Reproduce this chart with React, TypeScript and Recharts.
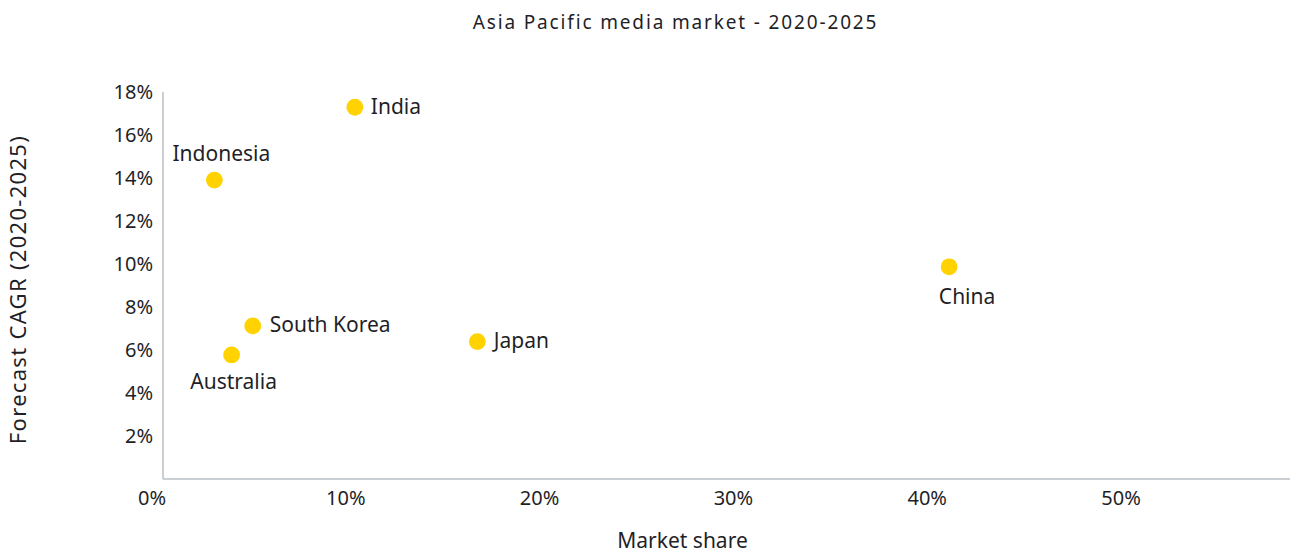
import React from "react";
import { ScatterChart, Scatter, XAxis, YAxis } from "recharts";

const countries = ["India", "Indonesia", "China", "South Korea", "Australia", "Japan"];
const marketShare = [9.9, 2.65, 40.56, 4.63, 3.54, 16.22];
const forecastCagr = [17.29, 13.9, 9.87, 7.12, 5.77, 6.39];
const xTicks = [0, 10, 20, 30, 40, 50];
const yTicks = [2, 4, 6, 8, 10, 12, 14, 16, 18];

const data = countries.map((name, i) => ({ name, x: marketShare[i], y: forecastCagr[i] }));

const FONT = "'Noto Sans', sans-serif";
const TEXT = "#1f1f27";
const AXIS = "#B8BFC6";
const DOT = "#FFD200";

type Placement = { anchor: "start" | "middle"; dx: number; dy: number };
const placement: Record<string, Placement> = {
  India: { anchor: "start", dx: 16, dy: 6.5 },
  Japan: { anchor: "start", dx: 16.5, dy: 6.5 },
  "South Korea": { anchor: "start", dx: 17, dy: 6.5 },
  Indonesia: { anchor: "middle", dx: 7, dy: -19 },
  China: { anchor: "middle", dx: 18, dy: 37 },
  Australia: { anchor: "middle", dx: 2, dy: 34 },
};

const DotShape = (props: any) => {
  const { cx, cy, payload } = props;
  const p = placement[payload.name];
  return (
    <g>
      <circle cx={cx} cy={cy} r={8.4} fill={DOT} />
      <text
        x={cx + p.dx}
        y={cy + p.dy}
        textAnchor={p.anchor}
        fontFamily={FONT}
        fontSize={21}
        fill={TEXT}
      >
        {payload.name}
      </text>
    </g>
  );
};

const XTick = (props: any) => {
  const { x, y, payload } = props;
  return (
    <text x={x - 11} y={y + 18} textAnchor="middle" fontFamily={FONT} fontSize={20} fill={TEXT}>
      {`${payload.value}%`}
    </text>
  );
};

const YTick = (props: any) => {
  const { x, y, payload } = props;
  return (
    <text x={x} y={y + 6.5} textAnchor="end" fontFamily={FONT} fontSize={20} fill={TEXT}>
      {`${payload.value}%`}
    </text>
  );
};

export default function App() {
  return (
    <div style={{ position: "relative", width: 1290, height: 555, background: "#fff" }}>
      <style>{`body{margin:0;}`}</style>
      <ScatterChart
        width={1290}
        height={555}
        margin={{ top: 92, right: 0, bottom: 0, left: 0 }}
      >
        <XAxis
          type="number"
          dataKey="x"
          domain={[0, 58.15]}
          ticks={xTicks}
          tickLine={false}
          tickSize={0}
          tickMargin={8}
          height={76}
          axisLine={{ stroke: AXIS, strokeWidth: 1.5 }}
          tick={<XTick />}
          interval={0}
          allowDataOverflow
        />
        <YAxis
          type="number"
          dataKey="y"
          domain={[0, 18]}
          ticks={yTicks}
          tickLine={false}
          tickSize={0}
          tickMargin={10}
          width={163}
          axisLine={{ stroke: AXIS, strokeWidth: 1.5 }}
          tick={<YTick />}
          interval={0}
        />
        <Scatter data={data} shape={<DotShape />} isAnimationActive={false} />
      </ScatterChart>
      <svg
        width={1290}
        height={555}
        style={{ position: "absolute", left: 0, top: 0, pointerEvents: "none" }}
      >
        <text x={675.5} y={28.5} textAnchor="middle" fontFamily={FONT} fontSize={19} letterSpacing={1.85} fill={TEXT}>
          Asia Pacific media market - 2020-2025
        </text>
        <text x={682.5} y={548} textAnchor="middle" fontFamily={FONT} fontSize={21} fill={TEXT}>
          Market share
        </text>
        <text
          x={0}
          y={0}
          transform="translate(26,289.5) rotate(-90)"
          textAnchor="middle"
          fontFamily={FONT}
          fontSize={22}
          letterSpacing={1.3}
          fill={TEXT}
        >
          Forecast CAGR (2020-2025)
        </text>
      </svg>
    </div>
  );
}
